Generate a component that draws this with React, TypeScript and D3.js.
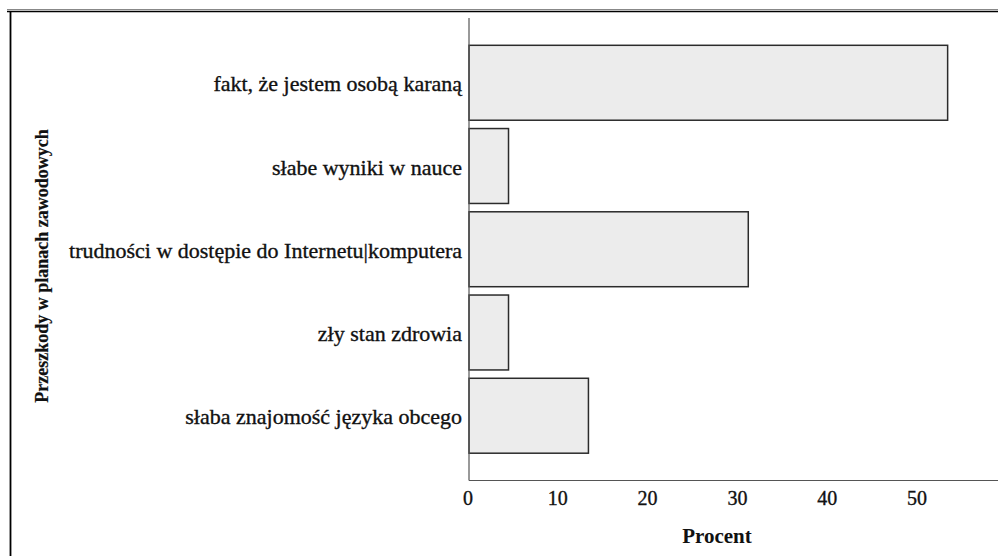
import React from "react";
import * as d3 from "d3";

const categories = [
  "fakt, że jestem osobą karaną",
  "słabe wyniki w nauce",
  "trudności w dostępie do Internetu|komputera",
  "zły stan zdrowia",
  "słaba znajomość języka obcego",
];
const values = [53.3, 4.4, 31.1, 4.4, 13.3];
const xTicks = [0, 10, 20, 30, 40, 50];
const xTitle = "Procent";
const yTitle = "Przeszkody w planach zawodowych";

const W = 998;
const H = 556;
const left = 469;
const top = 18;
const bottom = 480.5;
const font = "'Liberation Serif', 'Times New Roman', serif";

export default function App() {
  const x = d3.scaleLinear().domain([0, 50]).range([left, 918]);
  const y = d3
    .scaleBand<string>()
    .domain(categories)
    .range([top, bottom])
    .paddingInner(0.1)
    .paddingOuter(0.328);

  return (
    <svg
      width={W}
      height={H}
      style={{ position: "absolute", left: 0, top: 0, background: "#fff" }}
    >
      {/* frame */}
      <line x1={7} x2={W} y1={9.5} y2={9.5} stroke="#888" strokeWidth={1} />
      <line x1={7} x2={W} y1={11.5} y2={11.5} stroke="#000" strokeWidth={1.6} />
      <line x1={10.5} x2={10.5} y1={11} y2={H} stroke="#000" strokeWidth={1.8} />

      {/* bars */}
      {categories.map((c, i) => (
        <rect
          key={c}
          x={x(0)}
          y={y(c)!}
          width={x(values[i]) - x(0)}
          height={y.bandwidth()}
          fill="#ececec"
          stroke="#2b2b2b"
          strokeWidth={1.5}
        />
      ))}

      {/* axes */}
      <line x1={left} x2={left} y1={top} y2={bottom} stroke="#555" strokeWidth={1.2} />
      <line x1={left} x2={W} y1={bottom} y2={bottom} stroke="#555" strokeWidth={1.2} />

      {/* category labels */}
      {categories.map((c) => (
        <text
          key={c}
          x={462}
          y={y(c)! + y.bandwidth() / 2 + 8.5}
          textAnchor="end"
          fontFamily={font}
          fontSize={22}
          fill="#111"
          stroke="#111"
          strokeWidth={0.35}
        >
          {c}
        </text>
      ))}

      {/* x tick labels */}
      {xTicks.map((t) => (
        <text
          key={t}
          x={x(t) - 1}
          y={505}
          textAnchor="middle"
          fontFamily={font}
          fontSize={20}
          fill="#111"
          stroke="#111"
          strokeWidth={0.35}
        >
          {t}
        </text>
      ))}

      <text
        x={717}
        y={542.5}
        textAnchor="middle"
        fontFamily={font}
        fontSize={21}
        fontWeight="bold"
        fill="#111"
      >
        {xTitle}
      </text>

      <text
        transform={`translate(48, 266) rotate(-90)`}
        textAnchor="middle"
        fontFamily={font}
        fontSize={18}
        fontWeight="bold"
        fill="#111"
        stroke="#111"
        strokeWidth={0.2}
      >
        {yTitle}
      </text>
    </svg>
  );
}
